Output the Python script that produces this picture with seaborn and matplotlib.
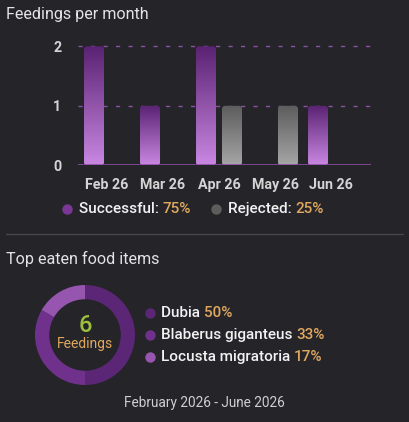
import numpy as np
import pandas as pd
import matplotlib
matplotlib.use("Agg")
import matplotlib.pyplot as plt
import seaborn as sns
from matplotlib.patches import FancyBboxPatch
from matplotlib.colors import LinearSegmentedColormap

# ---------------- data ----------------
months = ["Feb 26", "Mar 26", "Apr 26", "May 26", "Jun 26"]
successful = [2, 1, 2, 0, 1]
rejected = [0, 0, 1, 1, 0]
status_labels = ["Successful", "Rejected"]
y_ticks = [0, 1, 2]

foods = ["Dubia", "Blaberus giganteus", "Locusta migratoria"]
food_counts = [3, 2, 1]
date_range = "February 2026 - June 2026"

# ---------------- style ----------------
BG = "#252429"
sns.set_theme(style="dark")
plt.rcParams["font.family"] = ["Roboto", "DejaVu Sans"]

W, H = 410, 422
fig = plt.figure(figsize=(W / 100, H / 100), dpi=100, facecolor=BG)

def fx(px):
    return px / W

def fy(py):
    return 1 - py / H

# bar axes in pixel layout
ax_left, ax_right = 78, 371
y0_px, y2_px = 165.3, 46.3
unit_px = (y0_px - y2_px) / 2
ytop = 2.06
top_px = y0_px - ytop * unit_px
ax = fig.add_axes([fx(ax_left), fy(y0_px), (ax_right - ax_left) / W, (y0_px - top_px) / H])
ax.set_facecolor(BG)

df = pd.DataFrame({
    "month": months * 2,
    "count": successful + rejected,
    "status": [status_labels[0]] * len(months) + [status_labels[1]] * len(months),
})
sns.barplot(data=df, x="month", y="count", hue="status", order=months,
            hue_order=status_labels, width=0.928, gap=0.23, ax=ax,
            palette=["#8a4aa6", "#808080"], legend=False, saturation=1)

xmin, xmax = -0.518, 4.714
ax.set_xlim(xmin, xmax)
ax.set_ylim(0, ytop)

# gradient rounded bars
x_px_per_unit = (ax_right - ax_left) / (xmax - xmin)
r_x = 3.0 / x_px_per_unit
aspect = (1 / unit_px) / (1 / x_px_per_unit)
cm_purple = LinearSegmentedColormap.from_list("p", ["#c988e2", "#5a2272"])
cm_gray = LinearSegmentedColormap.from_list("g", ["#a6a6a6", "#5c5c5c"])
grad = np.linspace(0, 1, 256).reshape(-1, 1)
patches = list(ax.patches)
n = len(months)
for i, p in enumerate(patches):
    x, y, w, h = p.get_x(), p.get_y(), p.get_width(), p.get_height()
    p.set_visible(False)
    if h <= 0:
        continue
    cmap = cm_purple if i < n else cm_gray
    fb = FancyBboxPatch((x, y), w, h, boxstyle=f"round,pad=0,rounding_size={r_x}",
                        mutation_aspect=aspect, facecolor="none", edgecolor="none")
    ax.add_patch(fb)
    im = ax.imshow(grad, extent=(x, x + w, y, y + h), origin="lower", cmap=cmap,
                   aspect="auto", zorder=3, interpolation="bilinear")
    im.set_clip_path(fb)
ax.set_xlim(xmin, xmax)
ax.set_ylim(0, ytop)

for v in [1, 2]:
    ln, = ax.plot([xmin, xmax], [v, v], color="#8a52a3", lw=1.0, zorder=1)
    ln.set_dashes((3.0, 6.0))
ax.axhline(0, color="#8c4ca6", lw=1.2, zorder=4)

for s in ax.spines.values():
    s.set_visible(False)
ax.grid(False)
ax.set_xlabel("")
ax.set_ylabel("")
ax.set_yticks(y_ticks)
ax.set_yticklabels([str(t) for t in y_ticks])
ax.tick_params(axis="y", length=0, pad=12, labelsize=10.3, labelcolor="#d4d4d4")
ax.tick_params(axis="x", length=0, pad=9, labelsize=10.3, labelcolor="#d4d4d4")
for t in ax.get_xticklabels() + ax.get_yticklabels():
    t.set_fontweight("bold")

# overlay axes in pixel coordinates
ov = fig.add_axes([0, 0, 1, 1], facecolor="none")
ov.set_xlim(0, W)
ov.set_ylim(H, 0)
ov.axis("off")

fig.canvas.draw()
renderer = fig.canvas.get_renderer()

def run_text(x, y, parts, size, **kw):
    for txt, col in parts:
        t = ov.text(x, y, txt, color=col, fontsize=size, va="center", ha="left", **kw)
        bb = t.get_window_extent(renderer=renderer)
        x += bb.width
    return x

GOLD = "#dfa85f"
WHITE = "#f2f2f2"

ov.text(6, 15, "Feedings per month", color="#e4e4e4", fontsize=11.6, va="center", ha="left")

total = sum(successful) + sum(rejected)
succ_pct = round(100 * sum(successful) / total)
rej_pct = round(100 * sum(rejected) / total)
ov.plot([67], [209], "o", ms=7.5, color="#7b3795", mec="none")
run_text(79, 209, [("Successful: ", WHITE), (f"{succ_pct}%", GOLD)], 11, fontweight=500)
ov.plot([216], [209], "o", ms=7.5, color="#5d5d5d", mec="none")
run_text(228, 209, [("Rejected: ", WHITE), (f"{rej_pct}%", GOLD)], 11, fontweight=500)

ov.plot([6, 403], [234, 234], color="#47464c", lw=1)

ov.text(6, 259, "Top eaten food items", color="#e4e4e4", fontsize=11.6, va="center", ha="left")

# donut
food_colors = ["#5b2675", "#70318d", "#9656b0"]
dc_x, dc_y, R = 85, 335, 50
dax = fig.add_axes([fx(dc_x - R), fy(dc_y + R), 2 * R / W, 2 * R / H])
dax.pie(food_counts, colors=food_colors, startangle=90, counterclock=False,
        radius=1.0, wedgeprops=dict(width=0.285, edgecolor="none"))
dax.set_xlim(-1, 1)
dax.set_ylim(-1, 1)
dax.set_aspect("equal")
dax.axis("off")
ov.text(dc_x, 325, str(sum(food_counts)), color="#9cbf3c", fontsize=17,
        ha="center", va="center", fontweight=500)
ov.text(dc_x, 344, "Feedings", color=GOLD, fontsize=10, ha="center", va="center")

tot_food = sum(food_counts)
ys = [313, 335, 357]
for name, cnt, col, yy in zip(foods, food_counts, food_colors, ys):
    ov.plot([150.5], [yy], "o", ms=7.5, color=col, mec="none")
    pct = round(100 * cnt / tot_food)
    run_text(161, yy, [(name + " ", WHITE), (f"{pct}%", GOLD)], 11, fontweight=500)

ov.text(204.5, 403, date_range, color="#cfcfcf", fontsize=9.8, ha="center", va="center")

fig.savefig("out.png", dpi=100, facecolor=BG)
